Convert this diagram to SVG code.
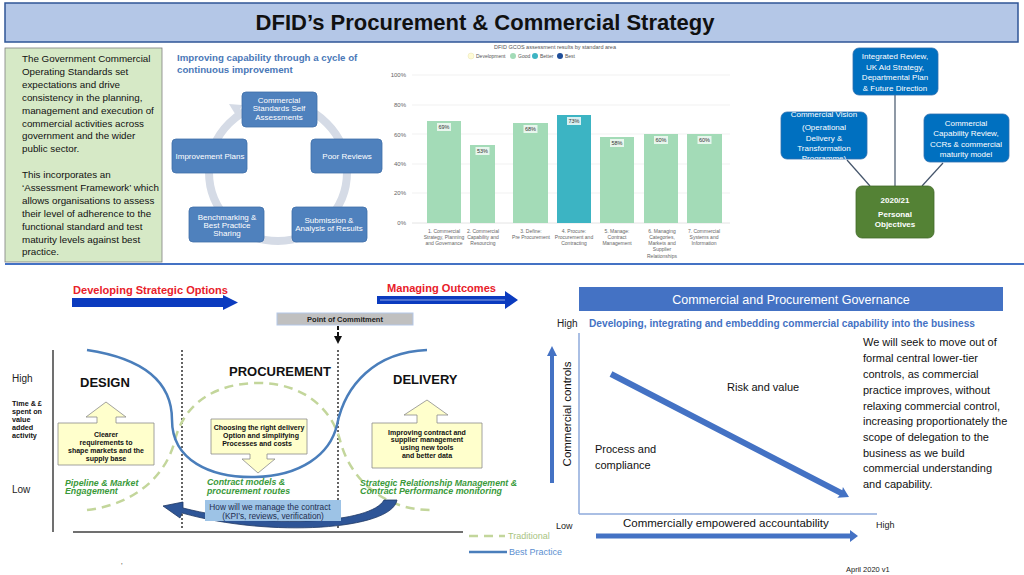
<svg xmlns="http://www.w3.org/2000/svg" width="1024" height="575" viewBox="0 0 1024 575">
<style>
text{font-family:"Liberation Sans",Arial,sans-serif}
.cyc{fill:#4f81bd;stroke:#3f6ea8;stroke-width:0.8}
.cyt{fill:#fff;font-size:8px;text-anchor:middle}
.para{font-size:9.8px;fill:#111}
.bar{fill:#a3dbb7}
.blab{fill:#e8f6ed}
.blt{font-size:5.5px;fill:#333;text-anchor:middle}
.xl{font-size:5px;fill:#666;text-anchor:middle}
.yl{font-size:6px;fill:#666;text-anchor:end}
.grid{stroke:#eeeeee;stroke-width:0.8}
.rb{fill:#0070c0;stroke:#2e6fae;stroke-width:0.8}
.rt{fill:#fff;font-size:8px;text-anchor:middle}
.call{fill:#ffffcc;stroke:#8c8c8c;stroke-width:0.8}
.ct{font-size:7px;font-weight:bold;fill:#111;text-anchor:middle}
.gl{font-size:8.8px;font-weight:bold;font-style:italic;fill:#3a9a3a}
.ph{font-size:13px;font-weight:bold;fill:#111}
.gov{font-size:11px;fill:#111}
.lbl{font-size:10px;fill:#222}
.tm{font-size:7.2px;font-weight:bold;fill:#111}
</style>
<defs>
<clipPath id="cvclip"><rect x="781" y="112" width="86" height="47" rx="6"/></clipPath>
<marker id="ah" viewBox="0 0 10 10" refX="5" refY="5" markerWidth="4" markerHeight="4" orient="auto"><path d="M0,0 L10,5 L0,10 Z" fill="#111"/></marker>
</defs>

<!-- Title -->
<g id="title">
<rect x="5" y="3" width="1013" height="39" fill="#b4c7e7" stroke="#2f5597" stroke-width="1.5"/>
<text x="485" y="30" font-size="22" font-weight="bold" text-anchor="middle" fill="#111">DFID’s Procurement &amp; Commercial Strategy</text>
</g>

<!-- Left text box -->
<g id="standards-text">
<rect x="5" y="48" width="157" height="214" fill="#d6e9c6" stroke="#7f7f7f" stroke-width="0.8"/>
<text class="para" x="22" y="62">The Government Commercial</text>
<text class="para" x="22" y="75">Operating Standards set</text>
<text class="para" x="22" y="88">expectations and drive</text>
<text class="para" x="22" y="101">consistency in the planning,</text>
<text class="para" x="22" y="114">management and execution of</text>
<text class="para" x="22" y="127">commercial activities across</text>
<text class="para" x="22" y="139">government and the wider</text>
<text class="para" x="22" y="152">public sector.</text>
<text class="para" x="22" y="178">This incorporates an</text>
<text class="para" x="22" y="191">‘Assessment Framework’ which</text>
<text class="para" x="22" y="204">allows organisations to assess</text>
<text class="para" x="22" y="217">their level of adherence to the</text>
<text class="para" x="22" y="230">functional standard and test</text>
<text class="para" x="22" y="243">maturity levels against best</text>
<text class="para" x="22" y="255">practice.</text>
</g>

<!-- Cycle diagram -->
<g id="cycle">
<text x="177" y="61" font-size="9.7" font-weight="bold" fill="#4a78b8">Improving capability through a cycle of</text>
<text x="177" y="73" font-size="9.7" font-weight="bold" fill="#4a78b8">continuous improvement</text>
<circle cx="278" cy="172" r="69" fill="none" stroke="#d5dbe6" stroke-width="8"/>
<polygon points="242,105 229,104 237,117" fill="#d5dbe6"/>
</g>
<g id="cyc-self-assess"><rect class="cyc" x="242" y="92" width="75" height="35" rx="4"/>
<text class="cyt" x="279" y="103">Commercial</text><text class="cyt" x="279" y="111">Standards Self</text><text class="cyt" x="279" y="120">Assessments</text></g>
<g id="cyc-peer"><rect class="cyc" x="311" y="139" width="71" height="34" rx="4"/>
<text class="cyt" x="347" y="159">Poor Reviews</text></g>
<g id="cyc-submission"><rect class="cyc" x="292" y="207" width="75" height="35" rx="4"/>
<text class="cyt" x="329" y="223">Submission &amp;</text><text class="cyt" x="329" y="231">Analysis of Results</text></g>
<g id="cyc-bench"><rect class="cyc" x="189" y="207" width="75" height="35" rx="4"/>
<text class="cyt" x="227" y="220">Benchmarking &amp;</text><text class="cyt" x="227" y="228">Best Practice</text><text class="cyt" x="227" y="236">Sharing</text></g>
<g id="cyc-plans"><rect class="cyc" x="172" y="139" width="75" height="34" rx="4"/>
<text class="cyt" x="210" y="159">Improvement Plans</text></g>

<!-- Bar chart -->
<g id="chart">
<text x="555" y="49" font-size="5.5" fill="#555" text-anchor="middle">DFID GCOS assessment results by standard area</text>
<circle cx="471" cy="56" r="3" fill="#fffbd6" stroke="#e6e2b0" stroke-width="0.5"/><text x="476" y="58" font-size="5" fill="#555">Development</text>
<circle cx="513" cy="56" r="3" fill="#a3dbb7"/><text x="518" y="58" font-size="5" fill="#555">Good</text>
<circle cx="535" cy="56" r="3" fill="#3cb4c3"/><text x="540" y="58" font-size="5" fill="#555">Better</text>
<circle cx="560" cy="56" r="3" fill="#1f4e99"/><text x="565" y="58" font-size="5" fill="#555">Best</text>
<line class="grid" x1="412" y1="75" x2="730" y2="75"/>
<line class="grid" x1="412" y1="105" x2="730" y2="105"/>
<line class="grid" x1="412" y1="134" x2="730" y2="134"/>
<line class="grid" x1="412" y1="164" x2="730" y2="164"/>
<line class="grid" x1="412" y1="193" x2="730" y2="193"/>
<line x1="412" y1="223" x2="730" y2="223" stroke="#dddddd" stroke-width="0.8"/>
<text class="yl" x="406" y="77">100%</text>
<text class="yl" x="406" y="107">80%</text>
<text class="yl" x="406" y="137">60%</text>
<text class="yl" x="406" y="166">40%</text>
<text class="yl" x="406" y="195">20%</text>
<text class="yl" x="406" y="225">0%</text>
<rect class="bar" x="427" y="121" width="34" height="102"/>
<rect class="bar" x="470" y="145" width="25" height="78"/>
<rect class="bar" x="513" y="123" width="35" height="100"/>
<rect x="557" y="115" width="34" height="108" fill="#3cb4c3"/>
<rect class="bar" x="600" y="137" width="34" height="86"/>
<rect class="bar" x="644" y="134" width="34" height="89"/>
<rect class="bar" x="687" y="134" width="35" height="89"/>
<rect class="blab" x="437" y="123" width="14" height="8"/><text class="blt" x="444" y="129">69%</text>
<rect class="blab" x="475.5" y="147" width="14" height="8"/><text class="blt" x="482.5" y="153">53%</text>
<rect class="blab" x="523.5" y="125" width="14" height="8"/><text class="blt" x="530.5" y="131">68%</text>
<rect x="567" y="117" width="14" height="8" fill="#d8f0f2"/><text class="blt" x="574" y="123">73%</text>
<rect class="blab" x="610" y="139" width="14" height="8"/><text class="blt" x="617" y="145">58%</text>
<rect class="blab" x="654" y="136" width="14" height="8"/><text class="blt" x="661" y="142">60%</text>
<rect class="blab" x="697.5" y="136" width="14" height="8"/><text class="blt" x="704.5" y="142">60%</text>
<text class="xl" x="444" y="233">1. Commercial</text><text class="xl" x="444" y="239">Strategy, Planning</text><text class="xl" x="444" y="245">and Governance</text>
<text class="xl" x="483" y="233">2. Commercial</text><text class="xl" x="483" y="239">Capability and</text><text class="xl" x="483" y="245">Resourcing</text>
<text class="xl" x="531" y="233">3. Define:</text><text class="xl" x="531" y="239">Pre Procurement</text>
<text class="xl" x="574" y="233">4. Procure:</text><text class="xl" x="574" y="239">Procurement and</text><text class="xl" x="574" y="245">Contracting</text>
<text class="xl" x="617" y="233">5. Manage:</text><text class="xl" x="617" y="239">Contract</text><text class="xl" x="617" y="245">Management</text>
<text class="xl" x="662" y="233">6. Managing</text><text class="xl" x="662" y="239">Categories,</text><text class="xl" x="662" y="245">Markets and</text><text class="xl" x="662" y="251">Supplier</text><text class="xl" x="662" y="258">Relationships</text>
<text class="xl" x="704" y="233">7. Commercial</text><text class="xl" x="704" y="239">Systems and</text><text class="xl" x="704" y="245">Information</text>
</g>

<!-- Right cluster connectors -->
<g id="connectors" stroke="#44546a" stroke-width="1.2" fill="none">
<line x1="895" y1="95" x2="895" y2="186"/>
<line x1="847" y1="160" x2="870" y2="186"/>
<line x1="943" y1="163" x2="922" y2="186"/>
</g>
<g id="node-integrated"><rect class="rb" x="853" y="48" width="85" height="47" rx="6"/>
<text class="rt" x="895" y="59">Integrated Review,</text><text class="rt" x="895" y="70">UK Aid Strategy,</text><text class="rt" x="895" y="80">Departmental Plan</text><text class="rt" x="895" y="91">&amp; Future Direction</text></g>
<g id="node-vision"><rect class="rb" x="781" y="112" width="86" height="47" rx="6"/>
<g clip-path="url(#cvclip)"><text class="rt" x="824" y="117">Commercial Vision</text><text class="rt" x="824" y="130">(Operational</text><text class="rt" x="824" y="141">Delivery &amp;</text><text class="rt" x="824" y="151">Transformation</text><text class="rt" x="824" y="161">Programme)</text></g></g>
<g id="node-ccr"><rect class="rb" x="924" y="114" width="85" height="48" rx="6"/>
<text class="rt" x="966" y="126">Commercial</text><text class="rt" x="966" y="136">Capability Review,</text><text class="rt" x="966" y="147">CCRs &amp; commercial</text><text class="rt" x="966" y="157">maturity model</text></g>
<g id="node-objectives"><rect x="856" y="186" width="78" height="52" rx="6" fill="#548235" stroke="#426b29" stroke-width="0.8"/>
<text x="895" y="203" font-size="8" font-weight="bold" fill="#fff" text-anchor="middle">2020/21</text>
<text x="895" y="217" font-size="8" font-weight="bold" fill="#fff" text-anchor="middle">Personal</text>
<text x="895" y="227" font-size="8" font-weight="bold" fill="#fff" text-anchor="middle">Objectives</text></g>

<!-- separator -->
<line x1="5" y1="264" x2="1024" y2="264" stroke="#4472c4" stroke-width="2"/>

<!-- Bottom-left lifecycle -->
<g id="phase-arrows">
<text x="73" y="294" font-size="11" font-weight="bold" fill="#e8202a" textLength="155" lengthAdjust="spacingAndGlyphs">Developing Strategic Options</text>
<path d="M72,298 H223 V295 L238,302.5 L223,310 V307 H72 Z" fill="#0b3bbf"/>
<text x="387" y="292" font-size="11" font-weight="bold" fill="#e8202a" textLength="109" lengthAdjust="spacingAndGlyphs">Managing Outcomes</text>
<path d="M377,296 H505 V291 L518,300 L505,309 V304 H377 Z" fill="#0b3bbf"/>
<line x1="380" y1="300" x2="505" y2="300" stroke="#ffffff" stroke-opacity="0.55" stroke-width="1"/>
</g>
<g id="point-of-commitment">
<rect x="277" y="313" width="136" height="12" fill="#c0c0c0" stroke="#b4c7e7" stroke-width="1"/>
<text x="345" y="322" font-size="7.5" font-weight="bold" fill="#222" text-anchor="middle">Point of Commitment</text>
<line x1="338" y1="326" x2="338" y2="340" stroke="#111" stroke-width="2" stroke-dasharray="4,2" marker-end="url(#ah)"/>
</g>
<g id="axes">
<line x1="53" y1="350" x2="53" y2="532" stroke="#404040" stroke-width="1.5"/>
<line x1="73" y1="532" x2="463" y2="532" stroke="#404040" stroke-width="1.5"/>
<line x1="182" y1="350" x2="182" y2="530" stroke="#111" stroke-width="1.3" stroke-dasharray="2,2"/>
<line x1="338" y1="350" x2="338" y2="530" stroke="#111" stroke-width="1.3" stroke-dasharray="2,2"/>
<text class="lbl" x="12" y="382">High</text>
<text class="tm" x="12" y="406">Time &amp; £</text>
<text class="tm" x="12" y="414">spent on</text>
<text class="tm" x="12" y="422">value</text>
<text class="tm" x="12" y="430">added</text>
<text class="tm" x="12" y="438">activity</text>
<text class="lbl" x="12" y="493">Low</text>
</g>
<g id="curves" fill="none">
<path d="M87,510 C130,505 165,480 175,440 C185,400 220,383 258,383 C300,383 330,405 340,440 C350,480 385,510 430,510" stroke="#c3d69b" stroke-width="2.5" stroke-dasharray="9,6"/>
<path d="M87,350 C140,358 172,380 172,420 C172,460 210,478 255,477 C300,476 330,455 337,425 C345,385 375,352 427,350" stroke="#4a7ebb" stroke-width="2.5"/>
</g>
<g id="phase-labels">
<text class="ph" x="80" y="387">DESIGN</text>
<text class="ph" x="229" y="376">PROCUREMENT</text>
<text class="ph" x="393" y="384">DELIVERY</text>
</g>
<g id="design-callout">
<path class="call" d="M58,423 H97 V417 H86 L106,402 L126,417 H116 V423 H154 V465 H58 Z"/>
<text class="ct" x="106" y="437">Clearer</text>
<text class="ct" x="106" y="445">requirements to</text>
<text class="ct" x="106" y="453">shape markets and the</text>
<text class="ct" x="106" y="461">supply base</text>
</g>
<g id="procurement-callout">
<path class="call" d="M211,419 H307 V454 H267 V459 H275 L258,473 L242,459 H250 V454 H211 Z"/>
<text class="ct" x="259" y="430">Choosing the right delivery</text>
<text class="ct" x="261" y="438">Option and simplifying</text>
<text class="ct" x="257" y="446">Processes and costs</text>
</g>
<g id="delivery-callout">
<path class="call" d="M372,423 H417 V415 H404 L427,400 L448,415 H437 V423 H482 V468 H372 Z"/>
<text class="ct" x="427" y="435">Improving contract and</text>
<text class="ct" x="427" y="442">supplier management</text>
<text class="ct" x="427" y="450">using new tools</text>
<text class="ct" x="427" y="458">and better data</text>
</g>
<g id="green-labels">
<text class="gl" x="65" y="486">Pipeline &amp; Market</text>
<text class="gl" x="65" y="494">Engagement</text>
<text class="gl" x="207" y="485">Contract models &amp;</text>
<text class="gl" x="207" y="494">procurement routes</text>
<text class="gl" x="360" y="486" textLength="157" lengthAdjust="spacingAndGlyphs">Strategic Relationship Management &amp;</text>
<text class="gl" x="360" y="494" textLength="142" lengthAdjust="spacingAndGlyphs">Contract Performance monitoring</text>
</g>
<g id="manage-contract">
<path d="M397,500 C392,530 270,538 182,513 L180,518 L163,506 L183,502 L183,508 C270,530 372,523 384,500 Z" fill="#2e5597" stroke="#1f3864" stroke-width="0.8"/>
<rect x="205" y="500" width="136" height="21" fill="#9dc3e6"/>
<text x="270" y="510" font-size="8.3" fill="#1f2d4f" text-anchor="middle">How will we manage the contract</text>
<text x="273" y="519" font-size="8.3" fill="#1f2d4f" text-anchor="middle">(KPI’s, reviews, verification)</text>
</g>
<g id="legend">
<line x1="469" y1="536" x2="505" y2="536" stroke="#c3d69b" stroke-width="2.5" stroke-dasharray="9,6"/>
<text x="508" y="539" font-size="9" fill="#a9c47f">Traditional</text>
<line x1="469" y1="552" x2="507" y2="552" stroke="#4a7ebb" stroke-width="2.5"/>
<text x="509" y="555" font-size="9" fill="#5b8fd0">Best Practice</text>
<text x="121" y="568" font-size="7" fill="#333">’</text>
</g>

<!-- Governance -->
<g id="governance">
<rect x="579" y="287" width="424" height="24" fill="#4472c4"/>
<text x="791" y="304" font-size="12.5" fill="#fff" text-anchor="middle">Commercial and Procurement Governance</text>
<text class="lbl" x="557" y="327">High</text>
<text x="589" y="327" font-size="10" font-weight="bold" fill="#4472c4" textLength="386" lengthAdjust="spacingAndGlyphs">Developing, integrating and embedding commercial capability into the business</text>
<line x1="579" y1="333" x2="579" y2="514" stroke="#8eaadb" stroke-width="1.5"/>
<line x1="579" y1="514" x2="877" y2="514" stroke="#8eaadb" stroke-width="1.5"/>
<path d="M550,483 V356 H547 L552,346 L557,356 H554 V483 Z" fill="#4472c4"/>
<text x="571" y="414" font-size="11.5" fill="#111" text-anchor="middle" transform="rotate(-90 571 414)">Commercial controls</text>
<path d="M609.6,376.7 L612.4,371.3 L842.3,490.2 L842.9,487.1 L849,497 L837.3,497.7 L839.5,495.6 Z" fill="#4472c4"/>
<text x="727" y="391" font-size="11" fill="#111">Risk and value</text>
<text x="595" y="453" font-size="11" fill="#111">Process and</text>
<text x="595" y="469" font-size="11" fill="#111">compliance</text>
<text class="gov" x="863" y="346">We will seek to move out of</text>
<text class="gov" x="863" y="362">formal central lower-tier</text>
<text class="gov" x="863" y="378">controls, as commercial</text>
<text class="gov" x="863" y="394">practice improves, without</text>
<text class="gov" x="863" y="410">relaxing commercial control,</text>
<text class="gov" x="863" y="425">increasing proportionately the</text>
<text class="gov" x="863" y="441">scope of delegation to the</text>
<text class="gov" x="863" y="457">business as we build</text>
<text class="gov" x="863" y="472">commercial understanding</text>
<text class="gov" x="863" y="488">and capability.</text>
<text x="556" y="529" font-size="9" fill="#222">Low</text>
<text x="623" y="527" font-size="11.5" fill="#111">Commercially empowered accountability</text>
<text x="876" y="528" font-size="9" fill="#222">High</text>
<path d="M596,533.5 H850 V530 L858,536 L850,542 V538.5 H596 Z" fill="#4472c4"/>
<text x="846" y="572" font-size="7.5" fill="#222">April 2020 v1</text>
</g>
</svg>
